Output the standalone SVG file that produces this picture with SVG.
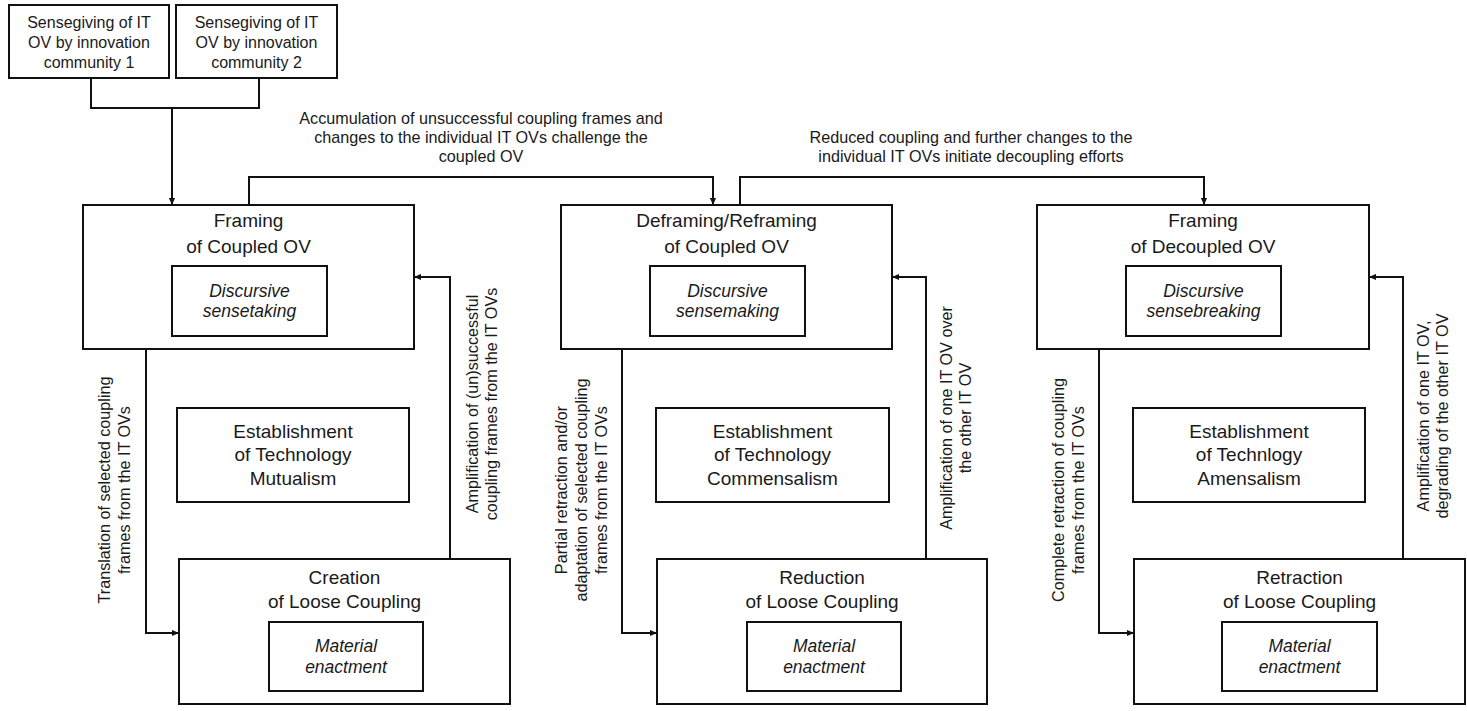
<svg xmlns="http://www.w3.org/2000/svg" width="1467" height="711" viewBox="0 0 1467 711">
  <style>
    .box { fill: #ffffff; stroke: #111111; stroke-width: 2; }
    .wire { fill: none; stroke: #111111; stroke-width: 2; }
    text { font-family: "Liberation Sans", Arial, sans-serif; fill: #1a1a1a; }
    .title { font-size: 19px; text-anchor: middle; }
    .sub { font-size: 17.5px; font-style: italic; text-anchor: middle; }
    .lbl { font-size: 16.2px; text-anchor: middle; }
    .src { font-size: 16px; text-anchor: middle; }
  </style>
  <defs>
    <marker id="arrow" viewBox="0 0 8 8" refX="8" refY="4" markerWidth="8" markerHeight="7" markerUnits="userSpaceOnUse" orient="auto">
      <path d="M0,0.5 L8,4 L0,7.5 z" fill="#111111"/>
    </marker>
  </defs>

  <rect width="1467" height="711" fill="#ffffff"/>

  <!-- connectors -->
  <g id="connectors">
    <!-- two community inputs merge into the coupled framing -->
    <path class="wire" d="M91,78 V108 H259 V78"/>
    <path class="wire" d="M172,108 V205" marker-end="url(#arrow)"/>
    <!-- framing -> deframing -> decoupled framing -->
    <path class="wire" d="M249,205 V177 H713 V205" marker-end="url(#arrow)"/>
    <path class="wire" d="M740,205 V177 H1204 V205" marker-end="url(#arrow)"/>
    <!-- column 1 loop -->
    <path class="wire" d="M146,349 V633 H179" marker-end="url(#arrow)"/>
    <path class="wire" d="M450,559 V277 H414" marker-end="url(#arrow)"/>
    <!-- column 2 loop -->
    <path class="wire" d="M622,349 V633 H657" marker-end="url(#arrow)"/>
    <path class="wire" d="M926,559 V277 H892" marker-end="url(#arrow)"/>
    <!-- column 3 loop -->
    <path class="wire" d="M1099,349 V633 H1134" marker-end="url(#arrow)"/>
    <path class="wire" d="M1403,559 V277 H1369" marker-end="url(#arrow)"/>

    <!-- connector labels -->
    <text class="lbl" x="481" y="124">Accumulation of unsuccessful coupling frames and</text>
    <text class="lbl" x="481" y="143">changes to the individual IT OVs challenge the</text>
    <text class="lbl" x="481" y="162">coupled OV</text>
    <text class="lbl" x="971" y="143">Reduced coupling and further changes to the</text>
    <text class="lbl" x="971" y="162">individual IT OVs initiate decoupling efforts</text>

    <g transform="translate(110,490) rotate(-90)">
      <text class="lbl" x="0" y="0">Translation of selected coupling</text>
      <text class="lbl" x="0" y="20">frames from the IT OVs</text>
    </g>
    <g transform="translate(478,404) rotate(-90)">
      <text class="lbl" x="0" y="0">Amplification of (un)successful</text>
      <text class="lbl" x="0" y="19">coupling frames from the IT OVs</text>
    </g>
    <g transform="translate(567,490) rotate(-90)">
      <text class="lbl" x="0" y="0">Partial retraction and/or</text>
      <text class="lbl" x="0" y="20">adaptation of selected coupling</text>
      <text class="lbl" x="0" y="40">frames from the IT OVs</text>
    </g>
    <g transform="translate(952,418) rotate(-90)">
      <text class="lbl" x="0" y="0">Amplification of one IT OV over</text>
      <text class="lbl" x="0" y="19">the other IT OV</text>
    </g>
    <g transform="translate(1064,490) rotate(-90)">
      <text class="lbl" x="0" y="0">Complete retraction of coupling</text>
      <text class="lbl" x="0" y="20">frames from the IT OVs</text>
    </g>
    <g transform="translate(1429,416) rotate(-90)">
      <text class="lbl" x="0" y="0">Amplification of one IT OV,</text>
      <text class="lbl" x="0" y="19">degrading of the other IT OV</text>
    </g>
  </g>

  <!-- sensegiving sources -->
  <g id="sensegiving-1">
    <rect class="box" x="9" y="5" width="160" height="73"/>
    <text class="src" x="89" y="28">Sensegiving of IT</text>
    <text class="src" x="89" y="48">OV by innovation</text>
    <text class="src" x="89" y="68">community 1</text>
  </g>
  <g id="sensegiving-2">
    <rect class="box" x="176" y="5" width="161" height="73"/>
    <text class="src" x="256.5" y="28">Sensegiving of IT</text>
    <text class="src" x="256.5" y="48">OV by innovation</text>
    <text class="src" x="256.5" y="68">community 2</text>
  </g>

  <!-- column 1: mutualism -->
  <g id="framing-coupled">
    <rect class="box" x="83" y="205" width="331" height="144"/>
    <text class="title" x="248.5" y="227">Framing</text>
    <text class="title" x="248.5" y="253">of Coupled OV</text>
    <rect class="box" x="172" y="266" width="155" height="70"/>
    <text class="sub" x="249.5" y="297">Discursive</text>
    <text class="sub" x="249.5" y="317">sensetaking</text>
  </g>
  <g id="mutualism">
    <rect class="box" x="177" y="408" width="232" height="94"/>
    <text class="title" x="293" y="437.5">Establishment</text>
    <text class="title" x="293" y="461">of Technology</text>
    <text class="title" x="293" y="485">Mutualism</text>
  </g>
  <g id="creation">
    <rect class="box" x="179" y="559" width="331" height="145"/>
    <text class="title" x="344.5" y="584">Creation</text>
    <text class="title" x="344.5" y="608">of Loose Coupling</text>
    <rect class="box" x="269" y="622" width="154" height="69"/>
    <text class="sub" x="346" y="652">Material</text>
    <text class="sub" x="346" y="673">enactment</text>
  </g>

  <!-- column 2: commensalism -->
  <g id="deframing">
    <rect class="box" x="561" y="205" width="331" height="144"/>
    <text class="title" x="726.5" y="227">Deframing/Reframing</text>
    <text class="title" x="726.5" y="253">of Coupled OV</text>
    <rect class="box" x="650" y="266" width="155" height="70"/>
    <text class="sub" x="727.5" y="297">Discursive</text>
    <text class="sub" x="727.5" y="317">sensemaking</text>
  </g>
  <g id="commensalism">
    <rect class="box" x="656" y="408" width="233" height="94"/>
    <text class="title" x="772.5" y="437.5">Establishment</text>
    <text class="title" x="772.5" y="461">of Technology</text>
    <text class="title" x="772.5" y="485">Commensalism</text>
  </g>
  <g id="reduction">
    <rect class="box" x="657" y="559" width="330" height="145"/>
    <text class="title" x="822" y="584">Reduction</text>
    <text class="title" x="822" y="608">of Loose Coupling</text>
    <rect class="box" x="747" y="622" width="154" height="69"/>
    <text class="sub" x="824" y="652">Material</text>
    <text class="sub" x="824" y="673">enactment</text>
  </g>

  <!-- column 3: amensalism -->
  <g id="framing-decoupled">
    <rect class="box" x="1037" y="205" width="332" height="144"/>
    <text class="title" x="1203" y="227">Framing</text>
    <text class="title" x="1203" y="253">of Decoupled OV</text>
    <rect class="box" x="1126" y="266" width="155" height="70"/>
    <text class="sub" x="1203.5" y="297">Discursive</text>
    <text class="sub" x="1203.5" y="317">sensebreaking</text>
  </g>
  <g id="amensalism">
    <rect class="box" x="1133" y="408" width="232" height="94"/>
    <text class="title" x="1249" y="437.5">Establishment</text>
    <text class="title" x="1249" y="461">of Technlogy</text>
    <text class="title" x="1249" y="485">Amensalism</text>
  </g>
  <g id="retraction">
    <rect class="box" x="1134" y="559" width="331" height="145"/>
    <text class="title" x="1299.5" y="584">Retraction</text>
    <text class="title" x="1299.5" y="608">of Loose Coupling</text>
    <rect class="box" x="1222" y="622" width="155" height="69"/>
    <text class="sub" x="1299.5" y="652">Material</text>
    <text class="sub" x="1299.5" y="673">enactment</text>
  </g>
</svg>
